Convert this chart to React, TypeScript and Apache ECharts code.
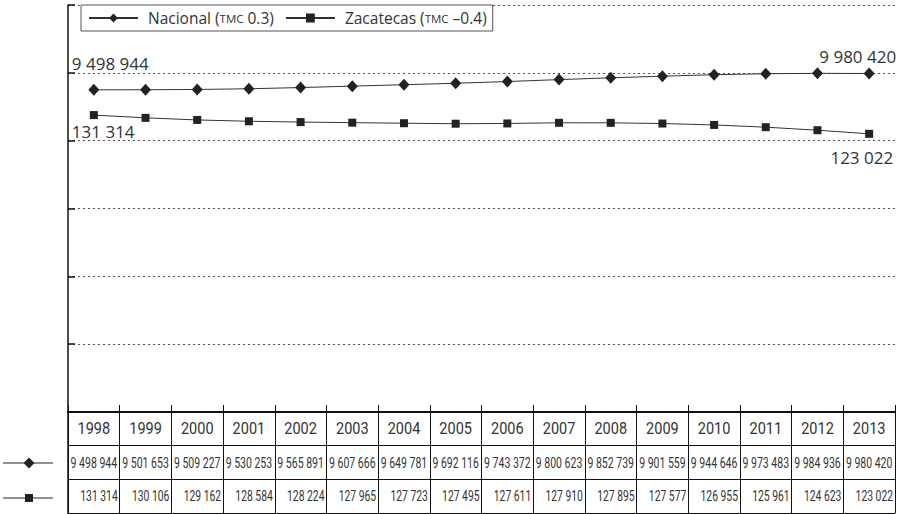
import React, { useEffect, useRef } from "react";
import * as echarts from "echarts";

const years = ["1998", "1999", "2000", "2001", "2002", "2003", "2004", "2005", "2006", "2007", "2008", "2009", "2010", "2011", "2012", "2013"];
const nacional = [9498944, 9501653, 9509227, 9530253, 9565891, 9607666, 9649781, 9692116, 9743372, 9800623, 9852739, 9901559, 9944646, 9973483, 9984936, 9980420];
const zacatecas = [131314, 130106, 129162, 128584, 128224, 127965, 127723, 127495, 127611, 127910, 127895, 127577, 126955, 125961, 124623, 123022];
const tableRows = ["year", "nac", "zac"];

const fmt = (v: number) => String(v).replace(/\B(?=(\d{3})+(?!\d))/g, " ");

const INK = "#222";
const TXT = "#333";
const LABEL_FONT = '"Open Sans", Roboto, sans-serif';
const CELL_FONT = 'Roboto, "Open Sans", sans-serif';

export default function App() {
  const ref = useRef<HTMLDivElement>(null);
  useEffect(() => {
    if (!ref.current) return;
    const chart = echarts.init(ref.current, undefined, { renderer: "svg" });
    const last = years.length - 1;
    const labelBase = {
      show: true,
      position: "inside",
      color: TXT,
      fontFamily: LABEL_FONT,
      fontSize: 17,
      verticalAlign: "middle",
      formatter: (p: any) => fmt(p.value),
    };
    const nacData = nacional.map((v, i) => {
      if (i === 0) return { value: v, label: { ...labelBase, align: "left", offset: [-22, -26] } };
      if (i === last) return { value: v, label: { ...labelBase, align: "right", offset: [27, -17] } };
      return v;
    });
    const zacData = zacatecas.map((v, i) => {
      if (i === 0) return { value: v, label: { ...labelBase, align: "left", offset: [-22, 16] } };
      if (i === last) return { value: v, label: { ...labelBase, align: "right", offset: [24, 24] } };
      return v;
    });

    const cellSeries = (row: number) => ({
      type: "custom",
      coordinateSystem: "cartesian2d",
      xAxisIndex: 1,
      yAxisIndex: 2,
      silent: true,
      data: years.map((_, i) => [i, row]),
      renderItem: (params: any, api: any) => {
        const i = params.dataIndex;
        const c = api.coord([api.value(0), api.value(1)]);
        const s = api.size([1, 1]);
        if (row === 0) {
          return {
            type: "text",
            x: c[0],
            y: c[1],
            scaleX: 0.88,
            style: { text: years[i], fill: TXT, font: `16.5px ${CELL_FONT}`, align: "center", verticalAlign: "middle" },
          };
        }
        if (row === 1) {
          return {
            type: "text",
            x: c[0],
            y: c[1],
            scaleX: 0.7,
            style: { text: fmt(nacional[i]), fill: TXT, font: `15px ${CELL_FONT}`, align: "center", verticalAlign: "middle" },
          };
        }
        return {
          type: "text",
          x: c[0] + s[0] / 2 - 2,
          y: c[1],
          scaleX: 0.69,
          style: { text: fmt(zacatecas[i]), fill: TXT, font: `15px ${CELL_FONT}`, align: "right", verticalAlign: "middle" },
        };
      },
    });

    const option: any = {
      animation: false,
      backgroundColor: "#fff",
      legend: {
        left: 81,
        top: 5,
        padding: [5, 6, 5, 7],
        itemWidth: 49,
        itemHeight: 11,
        itemGap: 11,
        borderColor: "#555",
        borderWidth: 1,
        backgroundColor: "#fff",
        selectedMode: false,
        data: ["Nacional", "Zacatecas"],
        formatter: (name: string) =>
          name === "Nacional" ? "{a|Nacional (}{s|TMC}{a| 0.3)}" : "{a|Zacatecas (}{s|TMC}{a| –0.4)}",
        textStyle: {
          padding: [0, 0, 0, 5],
          rich: {
            a: { fontFamily: LABEL_FONT, fontSize: 15.5, color: TXT },
            s: { fontFamily: LABEL_FONT, fontSize: 11.5, color: TXT },
          },
        },
      },
      grid: [
        { left: 68, top: 5, width: 827, height: 407 },
        { left: 68, top: 412, width: 827, height: 101 },
      ],
      xAxis: [
        {
          type: "category",
          gridIndex: 0,
          data: years,
          boundaryGap: true,
          axisLine: { show: true, lineStyle: { color: "#111", width: 2 } },
          axisTick: { show: true, inside: true, length: 7, lineStyle: { color: "#111" } },
          axisLabel: { show: false },
          splitLine: { show: false },
        },
        {
          type: "category",
          gridIndex: 1,
          data: years,
          boundaryGap: true,
          axisLine: { show: true, lineStyle: { color: "#111", width: 1 } },
          axisTick: { show: false },
          axisLabel: { show: false },
          splitLine: { show: true, lineStyle: { color: "#111", width: 1 } },
        },
      ],
      yAxis: [
        {
          type: "value",
          gridIndex: 0,
          min: 0,
          max: 12000000,
          interval: 2000000,
          axisLine: { show: true, lineStyle: { color: "#111", width: 1.5 } },
          axisTick: { show: true, inside: true, length: 7, lineStyle: { color: "#111", width: 1.5 } },
          axisLabel: { show: false },
          splitLine: { show: true, lineStyle: { color: "#555", width: 1, type: [2, 3] } },
        },
        {
          type: "value",
          gridIndex: 0,
          position: "right",
          min: 0,
          max: 180000,
          interval: 30000,
          show: false,
          splitLine: { show: false },
        },
        {
          type: "category",
          gridIndex: 1,
          data: tableRows,
          inverse: true,
          axisLine: { show: true, lineStyle: { color: "#111", width: 1.5 } },
          axisTick: { show: false },
          axisLabel: { show: false },
          splitLine: { show: true, lineStyle: { color: "#111", width: 1 } },
        },
      ],
      graphic: [
        { type: "line", shape: { x1: 3, y1: 463, x2: 53, y2: 463 }, style: { stroke: INK, lineWidth: 1 } },
        { type: "polygon", shape: { points: [[29, 457.5], [34.5, 463], [29, 468.5], [23.5, 463]] }, style: { fill: INK } },
        { type: "line", shape: { x1: 3, y1: 498, x2: 53, y2: 498 }, style: { stroke: INK, lineWidth: 1 } },
        { type: "rect", shape: { x: 25, y: 494, width: 8, height: 8 }, style: { fill: INK } },
      ],
      series: [
        {
          name: "Nacional",
          type: "line",
          xAxisIndex: 0,
          yAxisIndex: 0,
          data: nacData,
          symbol: "diamond",
          symbolSize: [11, 12],
          itemStyle: { color: INK },
          lineStyle: { color: "#333", width: 1 },
          z: 5,
        },
        {
          name: "Zacatecas",
          type: "line",
          xAxisIndex: 0,
          yAxisIndex: 1,
          data: zacData,
          symbol: "rect",
          symbolSize: 8,
          itemStyle: { color: INK },
          lineStyle: { color: "#333", width: 1 },
          z: 5,
        },
        cellSeries(0),
        cellSeries(1),
        cellSeries(2),
      ],
    };
    chart.setOption(option);
    return () => chart.dispose();
  }, []);
  return <div ref={ref} style={{ position: "absolute", left: 0, top: 0, width: 902, height: 514 }} />;
}
